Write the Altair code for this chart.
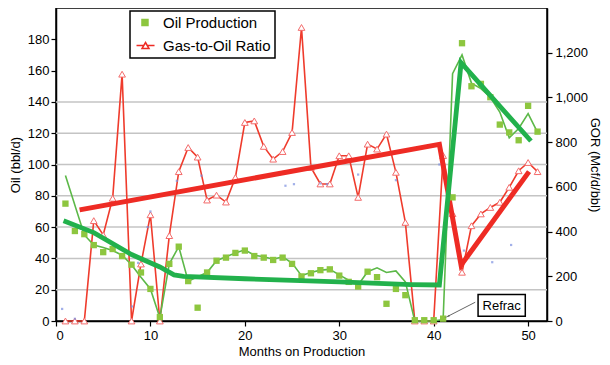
import altair as alt
import pandas as pd

FONT = "Liberation Sans"

# ---- data ----
months = list(range(1, 52))
oil = [75, 57.5, 55.5, 48.5, 44, 46, 41.5, 36, 31, 20.5,
       2.5, 36.5, 47.5, 25.5, 8.5, 31, 38.5, 40.5, 43.5, 45,
       41.5, 40.5, 39, 40.5, 36.5, 28.5, 30.5, 32.5, 33, 29,
       25, 22, 31.5, 28, 11, 20.5, 16.5, 0.5, 0.5, 0.5,
       1.5, 79, 177.5, 150, 151.5, 143, 125.5, 120.5, 115.5, 137.5,
       121]
gor = [0, 0, 0, 449, 385, 549, 1104, 0, 255, 475,
       0, 382, 668, 776, 733, 541, 563, 532, 642, 888,
       895, 781, 724, 758, 843, 1313, 687, 613, 613, 739,
       739, 553, 791, 769, 836, 665, 441, 0, 0, 0,
       740, 480, 218, 426, 479, 508, 531, 598, 672, 709,
       668]

thin_m = [1, 3, 4, 5, 6, 7, 8, 9, 10, 11, 12, 13, 14, 16, 17, 18, 19, 20,
          21, 22, 23, 24, 25, 26, 27, 28, 29, 30, 31, 32, 33, 34, 35, 36,
          37, 38, 39, 40, 41, 42, 43, 44, 45, 46, 47, 48, 49, 50, 51]
thin_v = [93, 55, 48.5, 47, 45, 42, 36, 28, 20.5, 2, 36.5, 47.5, 25.5, 31,
          38.5, 41, 43.5, 45.5, 42, 41, 39.5, 41, 37, 29, 31, 32.5, 33, 29.5,
          26, 23, 31.5, 34, 31, 32, 25, 0, 0, 0, 1, 158, 170, 152, 148.5,
          143, 133.5, 117, 123, 132.5, 120.5]

oil_trend_m = [0.8, 4, 8, 11, 12.5, 13.5, 20, 30, 37.6, 40.6, 42.9, 50.3]
oil_trend_v = [64, 56.5, 42.5, 34.5, 29.5, 28.5, 27, 25, 23.3, 23, 165, 115]

gor_trend_m = [2.5, 40.6, 42.9, 50.1]
gor_trend_v = [497, 790, 250, 668]

blue_m = [0.65, 2, 8.05, 8.7, 9.7, 10, 12.8, 15.4, 24.3, 25.2, 28, 28.7,
          32, 36, 40.6, 43.2, 46.2, 48.2]
blue_v = [54, 10, 65, 260, 420, 490, 627, 650, 605, 612, 615, 612,
          655, 630, 700, 315, 263, 340]

grid_vals = [20, 40, 60, 80, 100, 120, 140]
series = ["Oil Production", "Gas-to-Oil Ratio"]

refrac_label = ["Refrac"]
refrac_box_x = [44.7, 49.7]
refrac_box_y = [3, 17]
refrac_text_xy = [47.2, 9.9]
arrow_from = [44.4, 12]
arrow_to = [41.5, 3]

# ---- colours ----
SQ_GREEN = "#8dc63f"
THIN_GREEN = "#5cb848"
THICK_GREEN = "#22b14c"
RED = "#ee2b24"
TRI = "#f36b6b"
BLUE = "#7b8ee0"

x_scale = alt.Scale(domain=[0, 52], nice=False, zero=False)
x_axis = alt.Axis(values=[0, 10, 20, 30, 40, 50], title="Months on Production",
                  grid=False, labelPadding=3, titlePadding=3)
oil_scale = alt.Scale(domain=[0, 200], nice=False, zero=False)
gor_scale = alt.Scale(domain=[0, 1400], nice=False, zero=False)
left_axis = alt.Axis(values=list(range(0, 181, 20)), title="Oil (bbl/d)", grid=False,
                     labelPadding=2, titlePadding=5)
right_axis = alt.Axis(values=list(range(0, 1201, 200)), format=",.0f", orient="right",
                      title="GOR (Mcf/d/bbl)", titleAngle=90, grid=False,
                      labelPadding=3, titlePadding=0)


def X(field="m"):
    return alt.X(f"{field}:Q", scale=x_scale, axis=x_axis)


df_main = pd.DataFrame({"m": months, "oil": oil, "gor": gor})
df_thin = pd.DataFrame({"m": thin_m, "v": thin_v})
df_ot = pd.DataFrame({"m": oil_trend_m, "v": oil_trend_v})
df_gt = pd.DataFrame({"m": gor_trend_m, "v": gor_trend_v})
df_blue = pd.DataFrame({"m": blue_m, "v": blue_v})
df_grid = pd.DataFrame({"g": grid_vals})

grid = alt.Chart(df_grid).mark_rule(color="#c4c4c4", strokeWidth=1.5).encode(
    y=alt.Y("g:Q", scale=oil_scale, axis=left_axis)
)

Yg = lambda f: alt.Y(f"{f}:Q", scale=gor_scale, axis=right_axis)
red_thin = alt.Chart(df_main).mark_line(color="#ef3b2c", strokeWidth=1.6).encode(x=X(), y=Yg("gor"))
red_tri = alt.Chart(df_main).mark_point(shape="triangle-up", filled=True, fill="white",
                                         stroke=TRI, strokeWidth=1, size=45, opacity=1).encode(x=X(), y=Yg("gor"))
blue = alt.Chart(df_blue).mark_point(shape="square", filled=True, color=BLUE, size=5,
                                     opacity=0.7).encode(x=X(), y=Yg("v"))
red_thick = alt.Chart(df_gt).mark_line(color=RED, strokeWidth=5).encode(x=X(), y=Yg("v"))
red_group = alt.layer(red_thin, red_tri, blue, red_thick)

Yo = lambda f: alt.Y(f"{f}:Q", scale=oil_scale, axis=None)
green_thin = alt.Chart(df_thin).mark_line(color=THIN_GREEN, strokeWidth=1.6).encode(x=X(), y=Yo("v"))
green_sq = alt.Chart(df_main).mark_point(shape="square", filled=True, color=SQ_GREEN,
                                         size=40, opacity=1).encode(x=X(), y=Yo("oil"))
green_thick = alt.Chart(df_ot).mark_line(color=THICK_GREEN, strokeWidth=4.8).encode(x=X(), y=Yo("v"))
green_group = alt.layer(green_thin, green_sq, green_thick)

df_box = pd.DataFrame({"x1": [refrac_box_x[0]], "x2": [refrac_box_x[1]],
                       "y1": [refrac_box_y[0]], "y2": [refrac_box_y[1]],
                       "tx": [refrac_text_xy[0]], "ty": [refrac_text_xy[1]],
                       "t": refrac_label,
                       "ax": [arrow_from[0]], "ay": [arrow_from[1]],
                       "bx": [arrow_to[0]], "by": [arrow_to[1]]})
arrow = alt.Chart(df_box).mark_rule(color="#666666", strokeWidth=1).encode(
    x=X("ax"), x2="bx:Q", y=Yo("ay"), y2="by:Q")
arrow_head = alt.Chart(df_box).mark_point(shape="wedge", angle=243, size=45, filled=True,
                                          color="#666666", opacity=1).encode(x=X("bx"), y=Yo("by"))
box = alt.Chart(df_box).mark_rect(fill="white", stroke="black", strokeWidth=1.5).encode(
    x=X("x1"), x2="x2:Q", y=Yo("y1"), y2="y2:Q")
box_text = alt.Chart(df_box).mark_text(font=FONT, fontSize=13, color="black").encode(
    x=X("tx"), y=Yo("ty"), text="t:N")
annot = alt.layer(arrow, arrow_head, box, box_text)

# legend (symbols built from the series names; marks sit outside the domain and are clipped)
SQ_PATH = "M0.08,-0.5H1.08V0.5H0.08Z"
GOR_PATH = "M-0.83,0L0.38,0M0.96,0L2.17,0M0.667,-0.5L1.25,0.5L0.083,0.5Z"
leg = alt.Legend(title=None, orient="none", legendX=74, legendY=3, direction="vertical",
                 strokeColor="black", fillColor="white", padding=4, labelFont=FONT,
                 labelFontSize=15, labelColor="black", symbolSize=144,
                 symbolStrokeWidth=1.5, rowPadding=7, labelOffset=14)
df_leg = pd.DataFrame({"s": series, "m": [-20, -20], "v": [-50, -50]})
legend_layer = alt.Chart(df_leg).mark_point(filled=True, size=144, clip=True, opacity=1).encode(
    x=X(), y=Yo("v"),
    fill=alt.Fill("s:N", scale=alt.Scale(domain=series, range=[SQ_GREEN, "white"]), legend=leg),
    stroke=alt.Stroke("s:N", scale=alt.Scale(domain=series, range=[SQ_GREEN, RED]), legend=leg),
    shape=alt.Shape("s:N", scale=alt.Scale(domain=series, range=[SQ_PATH, GOR_PATH]), legend=leg),
)

chart = alt.layer(grid, red_group, green_group, annot, legend_layer).resolve_scale(
    y="independent"
).properties(
    width=491, height=313,
    autosize=alt.AutoSizeParams(type="none"),
    padding={"left": 48, "top": 0, "right": 55, "bottom": 36},
).configure_view(
    stroke="black", strokeWidth=1.5
).configure_axis(
    labelFont=FONT, labelFontSize=13, labelColor="black",
    titleFont=FONT, titleFontSize=13, titleFontWeight="normal", titleColor="black",
    tickColor="black", tickSize=5, tickWidth=1.2, domainColor="black", domainWidth=1.5,
).configure_legend(
    strokeWidth=1.5
)

chart.save("out.html", embed_options={"renderer": "svg", "actions": False})
